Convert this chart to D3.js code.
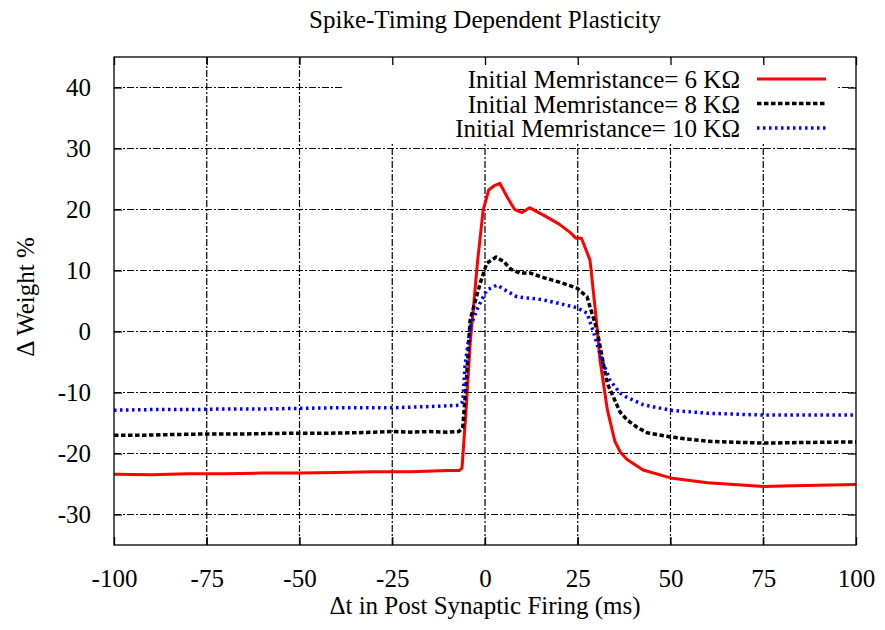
<!DOCTYPE html>
<meta charset="utf-8">
<html>
<head>
<title>Spike-Timing Dependent Plasticity</title>
<style>
  body { margin: 0; background: #fff; }
  text { font-family: "Liberation Serif", "Times New Roman", serif; fill: #000; }
</style>
</head>
<body>
<div id="viz"></div>
<script src="https://cdnjs.cloudflare.com/ajax/libs/d3/7.8.5/d3.min.js"></script>
<script>
// ticks
var xTicks = [-100, -75, -50, -25, 0, 25, 50, 75, 100];
var yTicks = [-30, -20, -10, 0, 10, 20, 30, 40];

// Δt (ms), Δ weight (%)
var red6k = [
  [-100, -23.4], [-90, -23.5], [-80, -23.3], [-70, -23.3], [-60, -23.2], [-50, -23.2],
  [-40, -23.1], [-30, -23.0], [-20, -23.0], [-10, -22.8], [-7, -22.8], [-6.2, -22.4],
  [-5, -12], [-4, -2], [-2, 11.5], [-0.5, 19.9], [1, 23.2], [2.5, 23.9], [4, 24.3],
  [6, 22], [8, 20], [10, 19.5], [12, 20.3], [16, 19], [20, 17.6], [23, 16.2],
  [24.5, 15.3], [26, 15.3], [28.3, 11.7], [30, 2], [31, -4.7], [33, -12.9],
  [35, -18], [36.5, -19.8], [38.3, -21], [42.6, -22.7], [50, -24], [60, -24.8], [70, -25.2],
  [75, -25.4], [83, -25.3], [90, -25.2], [100, -25.1]
];
var black8k = [
  [-100, -17.0], [-92, -17.0], [-85, -16.9], [-75, -16.8], [-65, -16.8], [-55, -16.7],
  [-45, -16.7], [-35, -16.6], [-30, -16.5], [-25, -16.4], [-20, -16.5], [-15, -16.4],
  [-10, -16.5], [-7, -16.4], [-6, -15.8], [-5, -8], [-4, 1.9], [-1.3, 7.9], [0.5, 11.2],
  [3, 12.2], [5, 11.5], [7, 10.2], [9.4, 9.6], [12, 9.6], [16, 8.8], [20, 8.1],
  [24.8, 7.1], [27.5, 5.7], [30.2, 0.2], [32.9, -8.4], [36.4, -13.2], [38.3, -14.5],
  [41, -15.7], [43.7, -16.6], [50, -17.3], [60, -18.0], [70, -18.2], [75, -18.3],
  [85, -18.2], [100, -18.1]
];
var blue10k = [
  [-100, -12.9], [-90, -12.8], [-80, -12.8], [-70, -12.7], [-60, -12.7], [-50, -12.6],
  [-40, -12.5], [-30, -12.5], [-25, -12.5], [-15, -12.3], [-7, -12.1], [-6, -11.5],
  [-5.4, -5.8], [-4, 0.7], [-1.9, 4], [0.5, 6.8], [3.2, 7.6], [6, 6.6], [8.6, 5.7],
  [15.6, 5.2], [20, 4.6], [24.8, 3.9], [27.5, 3], [29.1, 0.2], [31.5, -4.7],
  [33.7, -8], [36.4, -10.1], [38.3, -10.8], [42.6, -12], [50, -12.9], [60, -13.4],
  [75, -13.7], [100, -13.7]
];

var seriesNames = ["Initial Memristance= 6 K\u03A9", "Initial Memristance= 8 K\u03A9", "Initial Memristance= 10 K\u03A9"];
var seriesData = [red6k, black8k, blue10k];
var seriesColors = ["#ff0000", "#000000", "#0000ff"];
var seriesDash = [null, "4.5,2.5", "2.5,3.5"];
var seriesWidth = [3, 3.5, 3.5];

var W = 885, H = 630;
var pLeft = 114, pRight = 856, pTop = 57, pBottom = 545;
var fs = 25;

var svg = d3.select("#viz").append("svg")
    .attr("width", W)
    .attr("height", H);

var x = d3.scaleLinear().domain([-100, 100]).range([pLeft, pRight]);
var y = d3.scaleLinear().domain([-35, 45]).range([pBottom, pTop]);

// grid
var grid = svg.append("g");
grid.selectAll(".gx").data(xTicks.slice(1, -1)).enter().append("line")
    .attr("x1", function (d) { return x(d); })
    .attr("x2", function (d) { return x(d); })
    .attr("y1", pTop).attr("y2", pBottom);
grid.selectAll(".gy").data(yTicks).enter().append("line")
    .attr("x1", pLeft).attr("x2", pRight)
    .attr("y1", function (d) { return y(d); })
    .attr("y2", function (d) { return y(d); });
grid.selectAll("line")
    .attr("stroke", "#000")
    .attr("stroke-width", 1.2)
    .attr("stroke-dasharray", "7,2,2,2");

// legend box hides the grid
svg.append("rect")
    .attr("x", 343).attr("y", pTop + 1)
    .attr("width", 838 - 343).attr("height", 143 - pTop)
    .attr("fill", "#fff");

// series
var line = d3.line()
    .x(function (d) { return x(d[0]); })
    .y(function (d) { return y(d[1]); });

svg.selectAll(".series").data(seriesData).enter().append("path")
    .attr("d", line)
    .attr("fill", "none")
    .attr("stroke", function (d, i) { return seriesColors[i]; })
    .attr("stroke-width", function (d, i) { return seriesWidth[i]; })
    .attr("stroke-dasharray", function (d, i) { return seriesDash[i]; })
    .attr("stroke-linejoin", "round");

// border and inward ticks
svg.append("rect")
    .attr("x", pLeft).attr("y", pTop)
    .attr("width", pRight - pLeft).attr("height", pBottom - pTop)
    .attr("fill", "none").attr("stroke", "#000").attr("stroke-width", 1.3);

var fmt = function (d) { return String(d); };
var axB = d3.axisBottom(x).tickValues(xTicks).tickSize(-8).tickPadding(24).tickFormat(fmt);
var axT = d3.axisTop(x).tickValues(xTicks).tickSize(-8).tickFormat("");
var axL = d3.axisLeft(y).tickValues(yTicks).tickSize(-8).tickPadding(23).tickFormat(fmt);
var axR = d3.axisRight(y).tickValues(yTicks).tickSize(-8).tickFormat("");

[[axB, "translate(0," + pBottom + ")"], [axT, "translate(0," + pTop + ")"],
 [axL, "translate(" + pLeft + ",0)"], [axR, "translate(" + pRight + ",0)"]].forEach(function (a) {
    var g = svg.append("g").attr("transform", a[1]).call(a[0]);
    g.select(".domain").remove();
    g.selectAll("line").attr("stroke", "#000").attr("stroke-width", 1.3);
    g.selectAll("text").attr("font-size", fs).attr("font-family", "Liberation Serif").attr("fill", "#000");
});

// legend
var leg = svg.append("g");
seriesNames.forEach(function (name, i) {
    var base = 88 + i * 24.5;
    leg.append("text")
        .attr("x", 740).attr("y", base)
        .attr("text-anchor", "end")
        .attr("font-size", fs)
        .text(name);
    leg.append("line")
        .attr("x1", 757).attr("x2", 826)
        .attr("y1", base - 9).attr("y2", base - 9)
        .attr("stroke", seriesColors[i])
        .attr("stroke-width", seriesWidth[i])
        .attr("stroke-dasharray", seriesDash[i]);
});

// titles
svg.append("text")
    .attr("x", 485).attr("y", 28)
    .attr("text-anchor", "middle")
    .attr("font-size", fs)
    .text("Spike-Timing Dependent Plasticity");

svg.append("text")
    .attr("x", 485).attr("y", 614)
    .attr("text-anchor", "middle")
    .attr("font-size", fs)
    .text("\u0394t in Post Synaptic Firing (ms)");

svg.append("text")
    .attr("transform", "translate(34,297) rotate(-90)")
    .attr("text-anchor", "middle")
    .attr("font-size", fs)
    .text("\u0394 Weight %");
</script>
</body>
</html>
